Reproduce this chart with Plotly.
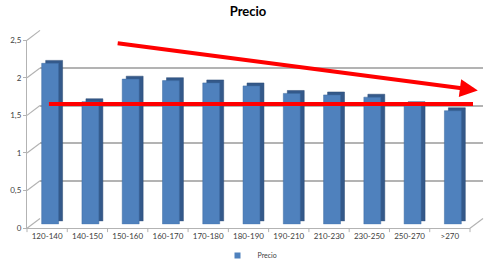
import plotly.graph_objects as go

categories = ["120-140", "140-150", "150-160", "160-170", "170-180", "180-190",
              "190-210", "210-230", "230-250", "250-270", ">270"]
precio = [2.14, 1.63, 1.93, 1.91, 1.88, 1.84, 1.74, 1.72, 1.69, 1.59, 1.51]
y_tick_vals = [0, 0.5, 1, 1.5, 2, 2.5]
y_tick_text = ["0", "0,5", "1", "1,5", "2", "2,5"]

# red annotation lines (in category index / value units)
level_value = 1.6
level_x = [-0.03, 10.55]
trend_start = (1.64, 2.41)
trend_end = (10.62, 1.78)

W, H = 486, 270
YSCALE = 262.4  # effective vertical extent used for placing elements
def px(x): return x / W
def py(y): return 1 - y / YSCALE

FONT = "Lato"
GRID = "#b3b3b3"
BLUE = "#4f81bd"
n = len(categories)
idx = list(range(n))
xr = [-0.5, n - 0.5]
yr = [0, 2.5]

fig = go.Figure()

# invisible anchors so the back wall and front axes subplots are drawn
fig.add_trace(go.Scatter(x=[0], y=[0], mode="markers", marker=dict(opacity=0),
                         xaxis="x", yaxis="y", showlegend=False, hoverinfo="skip"))
# back face of bars (depth)
fig.add_trace(go.Bar(x=idx, y=precio, width=0.42, xaxis="x2", yaxis="y2",
                     marker=dict(color="#34598a", line=dict(color="#2a4a75", width=0.5)),
                     showlegend=False, hoverinfo="skip"))
# front face of bars
fig.add_trace(go.Bar(x=idx, y=precio, width=0.42, xaxis="x3", yaxis="y3",
                     name="Precio", showlegend=False,
                     marker=dict(color=BLUE, line=dict(color="#3d6aa0", width=0.5))))
# front axes anchor + legend entry
fig.add_trace(go.Scatter(x=[None], y=[None], mode="markers", name="Precio",
                         marker=dict(symbol="square", size=6, color=BLUE),
                         xaxis="x4", yaxis="y4", showlegend=True, hoverinfo="skip"))

common_hidden = dict(showgrid=False, zeroline=False, showticklabels=False, ticks="",
                     showline=False, fixedrange=True, automargin=False)

layout = dict(
    template="none",
    width=W, height=H, autosize=False,
    margin=dict(l=0, r=0, t=0, b=0, pad=0),
    paper_bgcolor="white", plot_bgcolor="rgba(0,0,0,0)",
    barmode="overlay",
    font=dict(family=FONT, color="#404040"),
    # back wall
    xaxis=dict(domain=[px(40), px(483)], range=xr, anchor="y", **common_hidden),
    yaxis=dict(domain=[py(223), py(31)], range=yr, anchor="x", showgrid=True,
               gridcolor=GRID, gridwidth=1.6, tickvals=y_tick_vals,
               zeroline=False, showticklabels=False, ticks="", showline=False,
               fixedrange=True, automargin=False),
    # bar back faces
    xaxis2=dict(domain=[px(34), px(477)], range=xr, anchor="y2", **common_hidden),
    yaxis2=dict(domain=[py(226), py(34)], range=yr, anchor="x2", **common_hidden),
    # bar front faces
    xaxis3=dict(domain=[px(30), px(473)], range=xr, anchor="y3", **common_hidden),
    yaxis3=dict(domain=[py(229), py(37)], range=yr, anchor="x3", **common_hidden),
    # front axes with labels
    xaxis4=dict(domain=[px(27), px(470)], range=xr, anchor="y4",
                tickvals=idx, ticktext=categories, showgrid=False,
                zeroline=False, showline=True, linecolor=GRID, linewidth=1.2,
                ticks="", tickfont=dict(size=8, color="#404040"), fixedrange=True,
                automargin=False),
    yaxis4=dict(domain=[py(233), py(41)], range=yr, anchor="x4",
                tickvals=y_tick_vals, ticktext=y_tick_text, showgrid=False,
                zeroline=False, showline=True, linecolor=GRID, linewidth=1.2,
                ticks="outside", ticklen=3, tickcolor=GRID,
                tickfont=dict(size=8, color="#404040"), fixedrange=True,
                automargin=False),
    showlegend=True,
    legend=dict(orientation="h", x=px(250), xanchor="center", y=py(261), yanchor="middle",
                font=dict(size=7, color="#404040"), itemwidth=30,
                bgcolor="rgba(0,0,0,0)"),
    title=dict(text="<b>Precio</b>", x=px(248), xanchor="center", y=py(11),
               yanchor="middle", font=dict(size=13, color="black", family=FONT)),
)
fig.update_layout(**layout)

shapes = []
# diagonal connectors from front ticks to back wall
for v in y_tick_vals:
    yf = 233 - v * (233 - 41) / 2.5
    yb = 223 - v * (223 - 31) / 2.5
    shapes.append(dict(type="line", xref="paper", yref="paper",
                       x0=px(27), y0=py(yf), x1=px(40), y1=py(yb),
                       line=dict(color=GRID, width=1.2), layer="below"))
# category tick marks on the front floor edge
for i in range(n + 1):
    xx = 27 + i * (470 - 27) / n
    shapes.append(dict(type="line", xref="paper", yref="paper",
                       x0=px(xx), y0=py(233), x1=px(xx), y1=py(237),
                       line=dict(color=GRID, width=1), layer="below"))
# floor right edge
shapes.append(dict(type="line", xref="paper", yref="paper",
                   x0=px(470), y0=py(233), x1=px(483), y1=py(223),
                   line=dict(color=GRID, width=1.2), layer="below"))
# red horizontal level line
shapes.append(dict(type="line", xref="x3", yref="y3",
                   x0=level_x[0], y0=level_value, x1=level_x[1], y1=level_value,
                   line=dict(color="#ff0000", width=4), layer="above"))
fig.update_layout(shapes=shapes)

# red trend arrow
fig.add_annotation(x=trend_end[0], y=trend_end[1], ax=trend_start[0], ay=trend_start[1],
                   xref="x3", yref="y3", axref="x3", ayref="y3", text="",
                   showarrow=True, arrowhead=2, arrowsize=0.9, arrowwidth=4,
                   arrowcolor="#ff0000", standoff=0, startstandoff=0)

post = ("document.documentElement.style.margin='0px';"
        "document.documentElement.style.overflow='hidden';"
        "document.documentElement.style.height='270px';"
        "document.body.style.margin='0px';"
        "document.body.style.overflow='hidden';"
        "document.body.style.height='270px';")
fig.write_html("out.html", config={"displayModeBar": False}, post_script=post)
